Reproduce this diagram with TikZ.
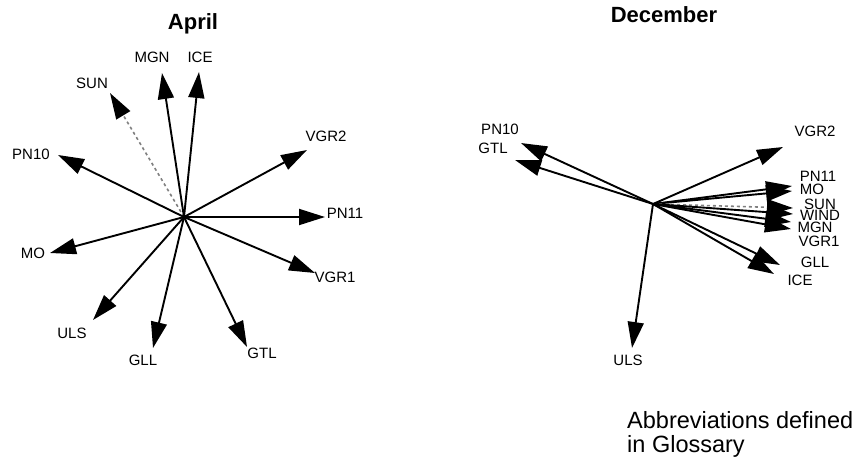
\documentclass[tikz,border=0pt]{standalone}
\usepackage{fontspec}
\setmainfont{Liberation Sans}
\usetikzlibrary{arrows.meta}

\begin{document}
\begin{tikzpicture}[x=1pt, y=-1pt,
        vec/.style={line width=1.9pt, -{Triangle[length=26pt, width=16pt]}},
        sunvec/.style={line width=1.6pt, gray, dash pattern=on 3pt off 3pt,
            -{Triangle[length=26pt, width=16pt, color=black, line width=1.9pt]}},
        lbl/.style={font=\fontsize{15}{18}\selectfont, inner sep=0pt},
        ttl/.style={font=\fontsize{22}{26}\selectfont\bfseries, inner sep=0pt}]
        \useasboundingbox (0,0) rectangle (858,456);

        % April
        \node[ttl] (aprTitle) at (193,24) {April};
        \coordinate (aprC) at (184,217);

        % April: tips
        \coordinate (aprSUNtip) at (110,93);
        \coordinate (aprMGNtip) at (162,73);
        \coordinate (aprICEtip) at (199,72);
        \coordinate (aprVGRtwotip) at (307,150);
        \coordinate (aprPNtentip) at (58,155);
        \coordinate (aprPNeleventip) at (325,217);
        \coordinate (aprMOtip) at (50,253);
        \coordinate (aprVGRonetip) at (315,273);
        \coordinate (aprULStip) at (93,320);
        \coordinate (aprGLLtip) at (153,348);
        \coordinate (aprGTLtip) at (247,347);

        % April: vectors
        \draw[sunvec] (aprC) -- (aprSUNtip);
        \draw[vec] (aprC) -- (aprMGNtip);
        \draw[vec] (aprC) -- (aprICEtip);
        \draw[vec] (aprC) -- (aprVGRtwotip);
        \draw[vec] (aprC) -- (aprPNtentip);
        \draw[vec] (aprC) -- (aprPNeleventip);
        \draw[vec] (aprC) -- (aprMOtip);
        \draw[vec] (aprC) -- (aprVGRonetip);
        \draw[vec] (aprC) -- (aprULStip);
        \draw[vec] (aprC) -- (aprGLLtip);
        \draw[vec] (aprC) -- (aprGTLtip);

        % April: labels
        \node[lbl] (aprSUN) at (92,83) {SUN};
        \node[lbl] (aprMGN) at (152,57) {MGN};
        \node[lbl] (aprICE) at (200,57) {ICE};
        \node[lbl] (aprVGRtwo) at (326,136) {VGR2};
        \node[lbl] (aprPNten) at (31,154) {PN10};
        \node[lbl] (aprPNeleven) at (345,213) {PN11};
        \node[lbl] (aprMO) at (33,253) {MO};
        \node[lbl] (aprVGRone) at (335,277) {VGR1};
        \node[lbl] (aprULS) at (72,333) {ULS};
        \node[lbl] (aprGLL) at (143,360) {GLL};
        \node[lbl] (aprGTL) at (262,353) {GTL};

        % December
        \node[ttl] (decTitle) at (664,15) {December};
        \coordinate (decC) at (653,204);

        % December: tips
        \coordinate (decPNtentip) at (521,143);
        \coordinate (decGTLtip) at (515,160);
        \coordinate (decVGRtwotip) at (783,147);
        \coordinate (decPNeleventip) at (792,186);
        \coordinate (decMOtip) at (792,191);
        \coordinate (decSUNtip) at (793,208);
        \coordinate (decWINDtip) at (793,214);
        \coordinate (decMGNtip) at (791,222);
        \coordinate (decVGRonetip) at (791,229);
        \coordinate (decGLLtip) at (780,265);
        \coordinate (decICEtip) at (774,274);
        \coordinate (decULStip) at (632,348);

        % December: vectors
        \draw[vec] (decC) -- (decPNtentip);
        \draw[vec] (decC) -- (decGTLtip);
        \draw[vec] (decC) -- (decVGRtwotip);
        \draw[vec] (decC) -- (decPNeleventip);
        \draw[vec] (decC) -- (decMOtip);
        \draw[sunvec] (decC) -- (decSUNtip);
        \draw[vec] (decC) -- (decWINDtip);
        \draw[vec] (decC) -- (decMGNtip);
        \draw[vec] (decC) -- (decVGRonetip);
        \draw[vec] (decC) -- (decGLLtip);
        \draw[vec] (decC) -- (decICEtip);
        \draw[vec] (decC) -- (decULStip);

        % December: labels
        \node[lbl] (decPNten) at (500,129) {PN10};
        \node[lbl] (decGTL) at (493,148) {GTL};
        \node[lbl] (decVGRtwo) at (815,131) {VGR2};
        \node[lbl] (decPNeleven) at (818,176) {PN11};
        \node[lbl] (decMO) at (812,189) {MO};
        \node[lbl] (decSUN) at (820,204) {SUN};
        \node[lbl] (decWIND) at (820,215) {WIND};
        \node[lbl] (decMGN) at (815,227) {MGN};
        \node[lbl] (decVGRone) at (819,241) {VGR1};
        \node[lbl] (decGLL) at (815,262) {GLL};
        \node[lbl] (decICE) at (800,280) {ICE};
        \node[lbl] (decULS) at (628,360) {ULS};

        % Note
        \node[lbl, font=\fontsize{23.5}{26}\selectfont, anchor=base west] (noteA) at (627,428) {Abbreviations defined};
        \node[lbl, font=\fontsize{23.5}{26}\selectfont, anchor=base west] (noteB) at (627,452) {in Glossary};
    \end{tikzpicture}
\end{document}
